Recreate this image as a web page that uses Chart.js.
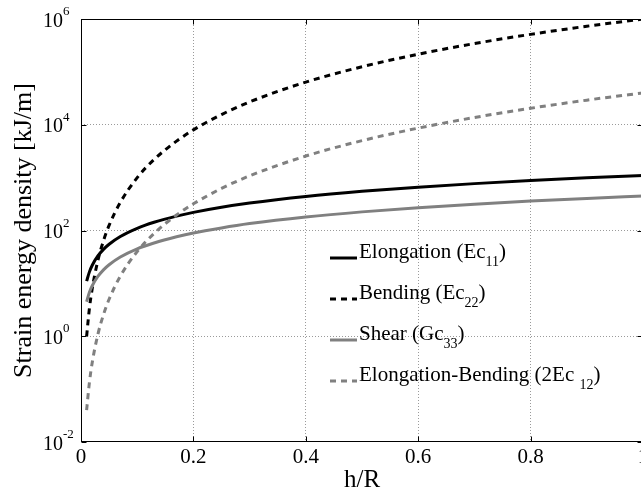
<!DOCTYPE html>
<html>
<head>
<meta charset="utf-8">
<script src="https://cdn.jsdelivr.net/npm/chart.js@4"></script>
<style>
  body { margin: 0; background: #fff; }
  #wrap { width: 641px; height: 493px; overflow: hidden; }
</style>
</head>
<body>
<div id="wrap"><canvas id="chart" width="660" height="493"></canvas></div>
<script>
// h/R values where the curves were read
const hR = [0.01, 0.015, 0.02, 0.03, 0.04, 0.05, 0.07, 0.1, 0.13, 0.17, 0.2, 0.25, 0.3, 0.4, 0.5, 0.6, 0.7, 0.8, 0.9, 1.0];

// Strain energy density [kJ/m]
const elongation = [11, 16.5, 22, 33, 44, 55, 77, 110, 143, 187, 220, 275, 330, 440, 550, 660, 770, 880, 990, 1100];
const bending = [1, 3.4, 8, 27, 64, 125, 340, 1000, 2200, 4900, 8000, 15600, 27000, 64000, 125000, 216000, 343000, 512000, 730000, 1000000];
const shear = [4.5, 6.8, 9, 13.5, 18, 22.5, 31.5, 45, 58, 76, 90, 112, 135, 180, 225, 270, 315, 360, 405, 450];
const elongBending = [0.04, 0.135, 0.32, 1.08, 2.56, 5, 13.7, 40, 88, 197, 320, 625, 1080, 2560, 5000, 8640, 13700, 20500, 29200, 40000];

// axis ticks
const xTicks = [0, 0.2, 0.4, 0.6, 0.8, 1];
const xTickLabels = ['0', '0.2', '0.4', '0.6', '0.8', '1'];
const yTicks = [1e-2, 1e0, 1e2, 1e4, 1e6];
const yTickExponents = ['-2', '0', '2', '4', '6'];

// legend text: main part + subscript
const legendMain = ['Elongation (Ec', 'Bending (Ec', 'Shear (Gc', 'Elongation-Bending (2Ec '];
const legendSub = ['11', '22', '33', '12'];

const SERIF = '"Liberation Serif", "Times New Roman", serif';
const GRAY = '#808080';

const toPoints = vals => vals.map((v, i) => ({ x: hR[i], y: v }));

// Box, inward tick marks, y labels with exponents and the in-plot legend
const overlay = {
  id: 'overlay',
  afterDraw(chart) {
    const { ctx, chartArea: a, scales: { x, y } } = chart;
    ctx.save();
    ctx.strokeStyle = '#000';
    ctx.lineWidth = 1;
    ctx.setLineDash([]);
    const L = Math.round(a.left) + 0.5, R = Math.round(a.right) - 0.5;
    const T = Math.round(a.top) + 0.5, B = Math.round(a.bottom) - 0.5;
    ctx.strokeRect(L, T, R - L, B - T);

    ctx.beginPath();
    xTicks.forEach(v => {
      const px = Math.round(x.getPixelForValue(v)) + 0.5;
      ctx.moveTo(px, B); ctx.lineTo(px, B - 5);
      ctx.moveTo(px, T); ctx.lineTo(px, T + 5);
    });
    yTicks.forEach(v => {
      const py = Math.round(y.getPixelForValue(v)) + 0.5;
      ctx.moveTo(L, py); ctx.lineTo(L + 5, py);
      ctx.moveTo(R, py); ctx.lineTo(R - 5, py);
    });
    ctx.stroke();

    // y tick labels: 10 with raised exponent
    ctx.fillStyle = '#000';
    ctx.textAlign = 'left';
    ctx.textBaseline = 'alphabetic';
    yTicks.forEach((v, i) => {
      const py = y.getPixelForValue(v);
      ctx.font = '20px ' + SERIF;
      ctx.fillText('10', 43, py + 7.5);
      const w = ctx.measureText('10').width;
      ctx.font = '13px ' + SERIF;
      ctx.fillText(yTickExponents[i], 43 + w, py - 4);
    });

    // legend
    const lx = 330, ly = 258, gap = 41;
    chart.data.datasets.forEach((ds, i) => {
      const yy = ly + i * gap;
      ctx.strokeStyle = ds.borderColor;
      ctx.lineWidth = ds.borderWidth;
      ctx.setLineDash(ds.borderDash || []);
      ctx.beginPath();
      ctx.moveTo(lx, yy); ctx.lineTo(lx + 27, yy);
      ctx.stroke();
      ctx.setLineDash([]);
      let tx = lx + 29;
      ctx.font = '21px ' + SERIF;
      ctx.fillText(legendMain[i], tx, yy);
      tx += ctx.measureText(legendMain[i]).width;
      ctx.font = '14px ' + SERIF;
      ctx.fillText(legendSub[i], tx, yy + 8);
      tx += ctx.measureText(legendSub[i]).width;
      ctx.font = '21px ' + SERIF;
      ctx.fillText(')', tx, yy);
    });
    ctx.restore();
  }
};

const edgeClear = c => (c.index === 0 || c.index === c.scale.ticks.length - 1) ? 'rgba(0,0,0,0)' : '#9a9a9a';

new Chart(document.getElementById('chart'), {
  type: 'line',
  data: {
    datasets: [
      { label: 'Elongation (Ec11)', data: toPoints(elongation), borderColor: '#000', borderWidth: 3, order: 4 },
      { label: 'Bending (Ec22)', data: toPoints(bending), borderColor: '#000', borderWidth: 3, borderDash: [6, 5], order: 3 },
      { label: 'Shear (Gc33)', data: toPoints(shear), borderColor: GRAY, borderWidth: 3, order: 2 },
      { label: 'Elongation-Bending (2Ec12)', data: toPoints(elongBending), borderColor: GRAY, borderWidth: 3, borderDash: [6, 5], order: 1 }
    ]
  },
  options: {
    responsive: false,
    devicePixelRatio: 1,
    animation: false,
    layout: { autoPadding: false, padding: { left: 0, top: 19, right: 17, bottom: 0 } },
    elements: {
      point: { radius: 0 },
      line: { cubicInterpolationMode: 'monotone', borderCapStyle: 'butt' }
    },
    plugins: {
      legend: { display: false },
      tooltip: { enabled: false }
    },
    scales: {
      x: {
        type: 'linear',
        min: 0,
        max: 1,
        afterBuildTicks: s => { s.ticks = xTicks.map(v => ({ value: v })); },
        afterFit: s => { s.height = 51; },
        ticks: {
          color: '#000',
          padding: 3,
          font: { family: SERIF, size: 21 },
          callback: (v, i) => xTickLabels[i]
        },
        grid: { color: edgeClear, drawTicks: false, lineWidth: 1 },
        border: { display: false, dash: [1, 2] },
        title: {
          display: true,
          text: 'h/R',
          color: '#000',
          font: { family: SERIF, size: 25, lineHeight: 1 },
          padding: { top: 0, bottom: 0 }
        }
      },
      y: {
        type: 'logarithmic',
        min: 1e-2,
        max: 1e6,
        afterBuildTicks: s => { s.ticks = yTicks.map(v => ({ value: v })); },
        afterFit: s => { s.width = 81; },
        ticks: { display: false },
        grid: { color: edgeClear, drawTicks: false, lineWidth: 1 },
        border: { display: false, dash: [1, 2] },
        title: {
          display: true,
          text: 'Strain energy density [kJ/m]',
          color: '#000',
          font: { family: SERIF, size: 26 },
          padding: { top: 9, bottom: 0 }
        }
      }
    }
  },
  plugins: [overlay]
});
</script>
</body>
</html>
